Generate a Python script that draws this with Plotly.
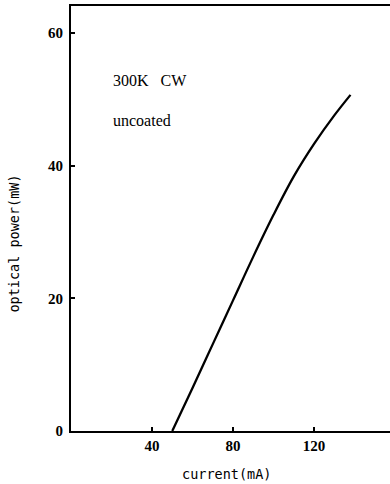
import plotly.graph_objects as go

current_mA = [50, 60, 70, 80, 90, 100, 110, 120, 130, 138]
power_mW = [0, 6.5, 13.1, 19.7, 26.3, 32.6, 38.4, 43.3, 47.6, 50.7]

x_ticks = [40, 80, 120]
y_ticks = [0, 20, 40, 60]

serif = "Liberation Serif"
mono = "DejaVu Sans Mono"

fig = go.Figure()
fig.add_trace(go.Scatter(x=current_mA, y=power_mW, mode="lines",
                         line=dict(color="black", width=2.3, shape="spline", smoothing=1.0),
                         showlegend=False))

fig.add_annotation(x=19.8, y=52.9, text="300K\u00a0\u00a0\u00a0CW", showarrow=False,
                   xanchor="left", yanchor="middle",
                   font=dict(family=serif, size=16, color="black"))
fig.add_annotation(x=19.8, y=46.9, text="uncoated", showarrow=False,
                   xanchor="left", yanchor="middle",
                   font=dict(family=serif, size=16, color="black"))

# axis titles as annotations for exact placement
fig.add_annotation(xref="paper", yref="paper", x=-0.18, y=0.44,
                   text="optical power(mW)", textangle=-90, showarrow=False,
                   xanchor="center", yanchor="middle",
                   font=dict(family=mono, size=13.5, color="black"))
fig.add_annotation(xref="paper", yref="paper", x=0.489, y=-0.101,
                   text="current(mA)", showarrow=False,
                   xanchor="center", yanchor="middle",
                   font=dict(family=mono, size=13.5, color="black"))

fig.update_layout(
    width=390, height=484,
    margin=dict(l=71, r=0, t=6, b=53),
    plot_bgcolor="white", paper_bgcolor="white",
    font=dict(family=serif, size=15, color="black"),
    xaxis=dict(range=[0, 157.5], tickvals=x_ticks, ticks="inside", ticklen=4,
               tickcolor="black", tickwidth=1.5, showline=True, linecolor="black", linewidth=2,
               mirror=True, showgrid=False, zeroline=False,
               tickfont=dict(family=serif, size=15, color="black", weight="bold")),
    yaxis=dict(range=[0, 64.1], tickvals=y_ticks, ticks="inside", ticklen=4,
               tickcolor="black", tickwidth=1.5, showline=True, linecolor="black", linewidth=2,
               showgrid=False, zeroline=False, ticklabelstandoff=3,
               tickfont=dict(family=serif, size=15, color="black", weight="bold")),
)

fig.write_html("out.html")
